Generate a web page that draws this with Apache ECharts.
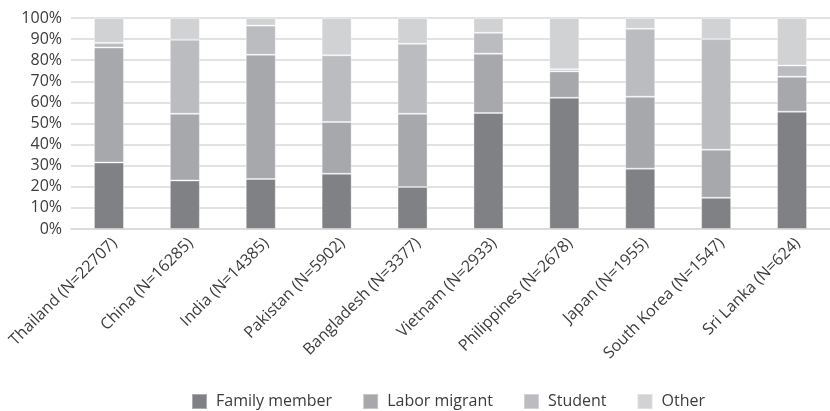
<!DOCTYPE html>
<html>
<head>
<meta charset="utf-8">
<script src="https://cdn.jsdelivr.net/npm/echarts@6/dist/echarts.min.js"></script>
<style>
html,body{margin:0;padding:0;background:#fff;}
#chart{width:830px;height:411px;}
</style>
</head>
<body>
<div id="chart"></div>
<script>
const categories = ["Thailand (N=22707)", "China (N=16285)", "India (N=14385)", "Pakistan (N=5902)", "Bangladesh (N=3377)", "Vietnam (N=2933)", "Philippines (N=2678)", "Japan (N=1955)", "South Korea (N=1547)", "Sri Lanka (N=624)"];
const familyMember = [31.5, 23.0, 23.7, 26.2, 19.9, 55.0, 62.2, 28.6, 14.8, 55.6];
const laborMigrant = [54.5, 31.6, 58.9, 24.5, 34.7, 28.1, 12.5, 34.1, 22.8, 16.6];
const student = [2.2, 35.1, 13.8, 31.6, 33.2, 9.9, 1.0, 32.2, 52.4, 5.3];
const other = [11.8, 10.3, 3.6, 17.7, 12.2, 7.0, 24.3, 5.1, 10.0, 22.5];
const seriesNames = ["Family member", "Labor migrant", "Student", "Other"];
const yTicks = [0, 10, 20, 30, 40, 50, 60, 70, 80, 90, 100];

const colors = ['#808184', '#a7a8ab', '#bbbcbf', '#d1d2d4'];
const font = 'Open Sans';
const textColor = '#3c3c3c';

const chart = echarts.init(document.getElementById('chart'), null, {renderer: 'canvas'});
const dataSets = [familyMember, laborMigrant, student, other];
chart.setOption({
  animation: false,
  color: colors,
  grid: {left: 71, width: 765, top: 18, bottom: 182, containLabel: false},
  legend: {
    data: seriesNames,
    left: 191,
    top: 393,
    padding: 0,
    itemWidth: 15,
    itemHeight: 15,
    itemGap: 30,
    icon: 'rect',
    textStyle: {fontFamily: font, fontSize: 16, color: textColor, padding: [0, 0, 0, 4]}
  },
  xAxis: {
    type: 'category',
    data: categories,
    axisLine: {show: true, lineStyle: {color: '#d9d9d9', width: 1.5}},
    axisTick: {show: false},
    axisLabel: {rotate: 45, interval: 0, margin: 6, align: 'right', verticalAlign: 'top', fontFamily: font, fontSize: 16, color: textColor}
  },
  yAxis: {
    type: 'value',
    min: yTicks[0],
    max: yTicks[yTicks.length - 1],
    interval: 10,
    axisLine: {show: false},
    axisTick: {show: false},
    splitLine: {lineStyle: {color: '#d9d9d9', width: 1.5}},
    axisLabel: {margin: 9, fontFamily: font, fontSize: 16, color: textColor, formatter: v => v + '%'}
  },
  series: seriesNames.map((name, i) => ({
    name: name,
    type: 'bar',
    stack: 'total',
    barWidth: 30,
    data: dataSets[i],
    itemStyle: {color: colors[i], borderColor: 'rgba(255,255,255,0.35)', borderWidth: 1}
  }))
});
</script>
</body>
</html>
